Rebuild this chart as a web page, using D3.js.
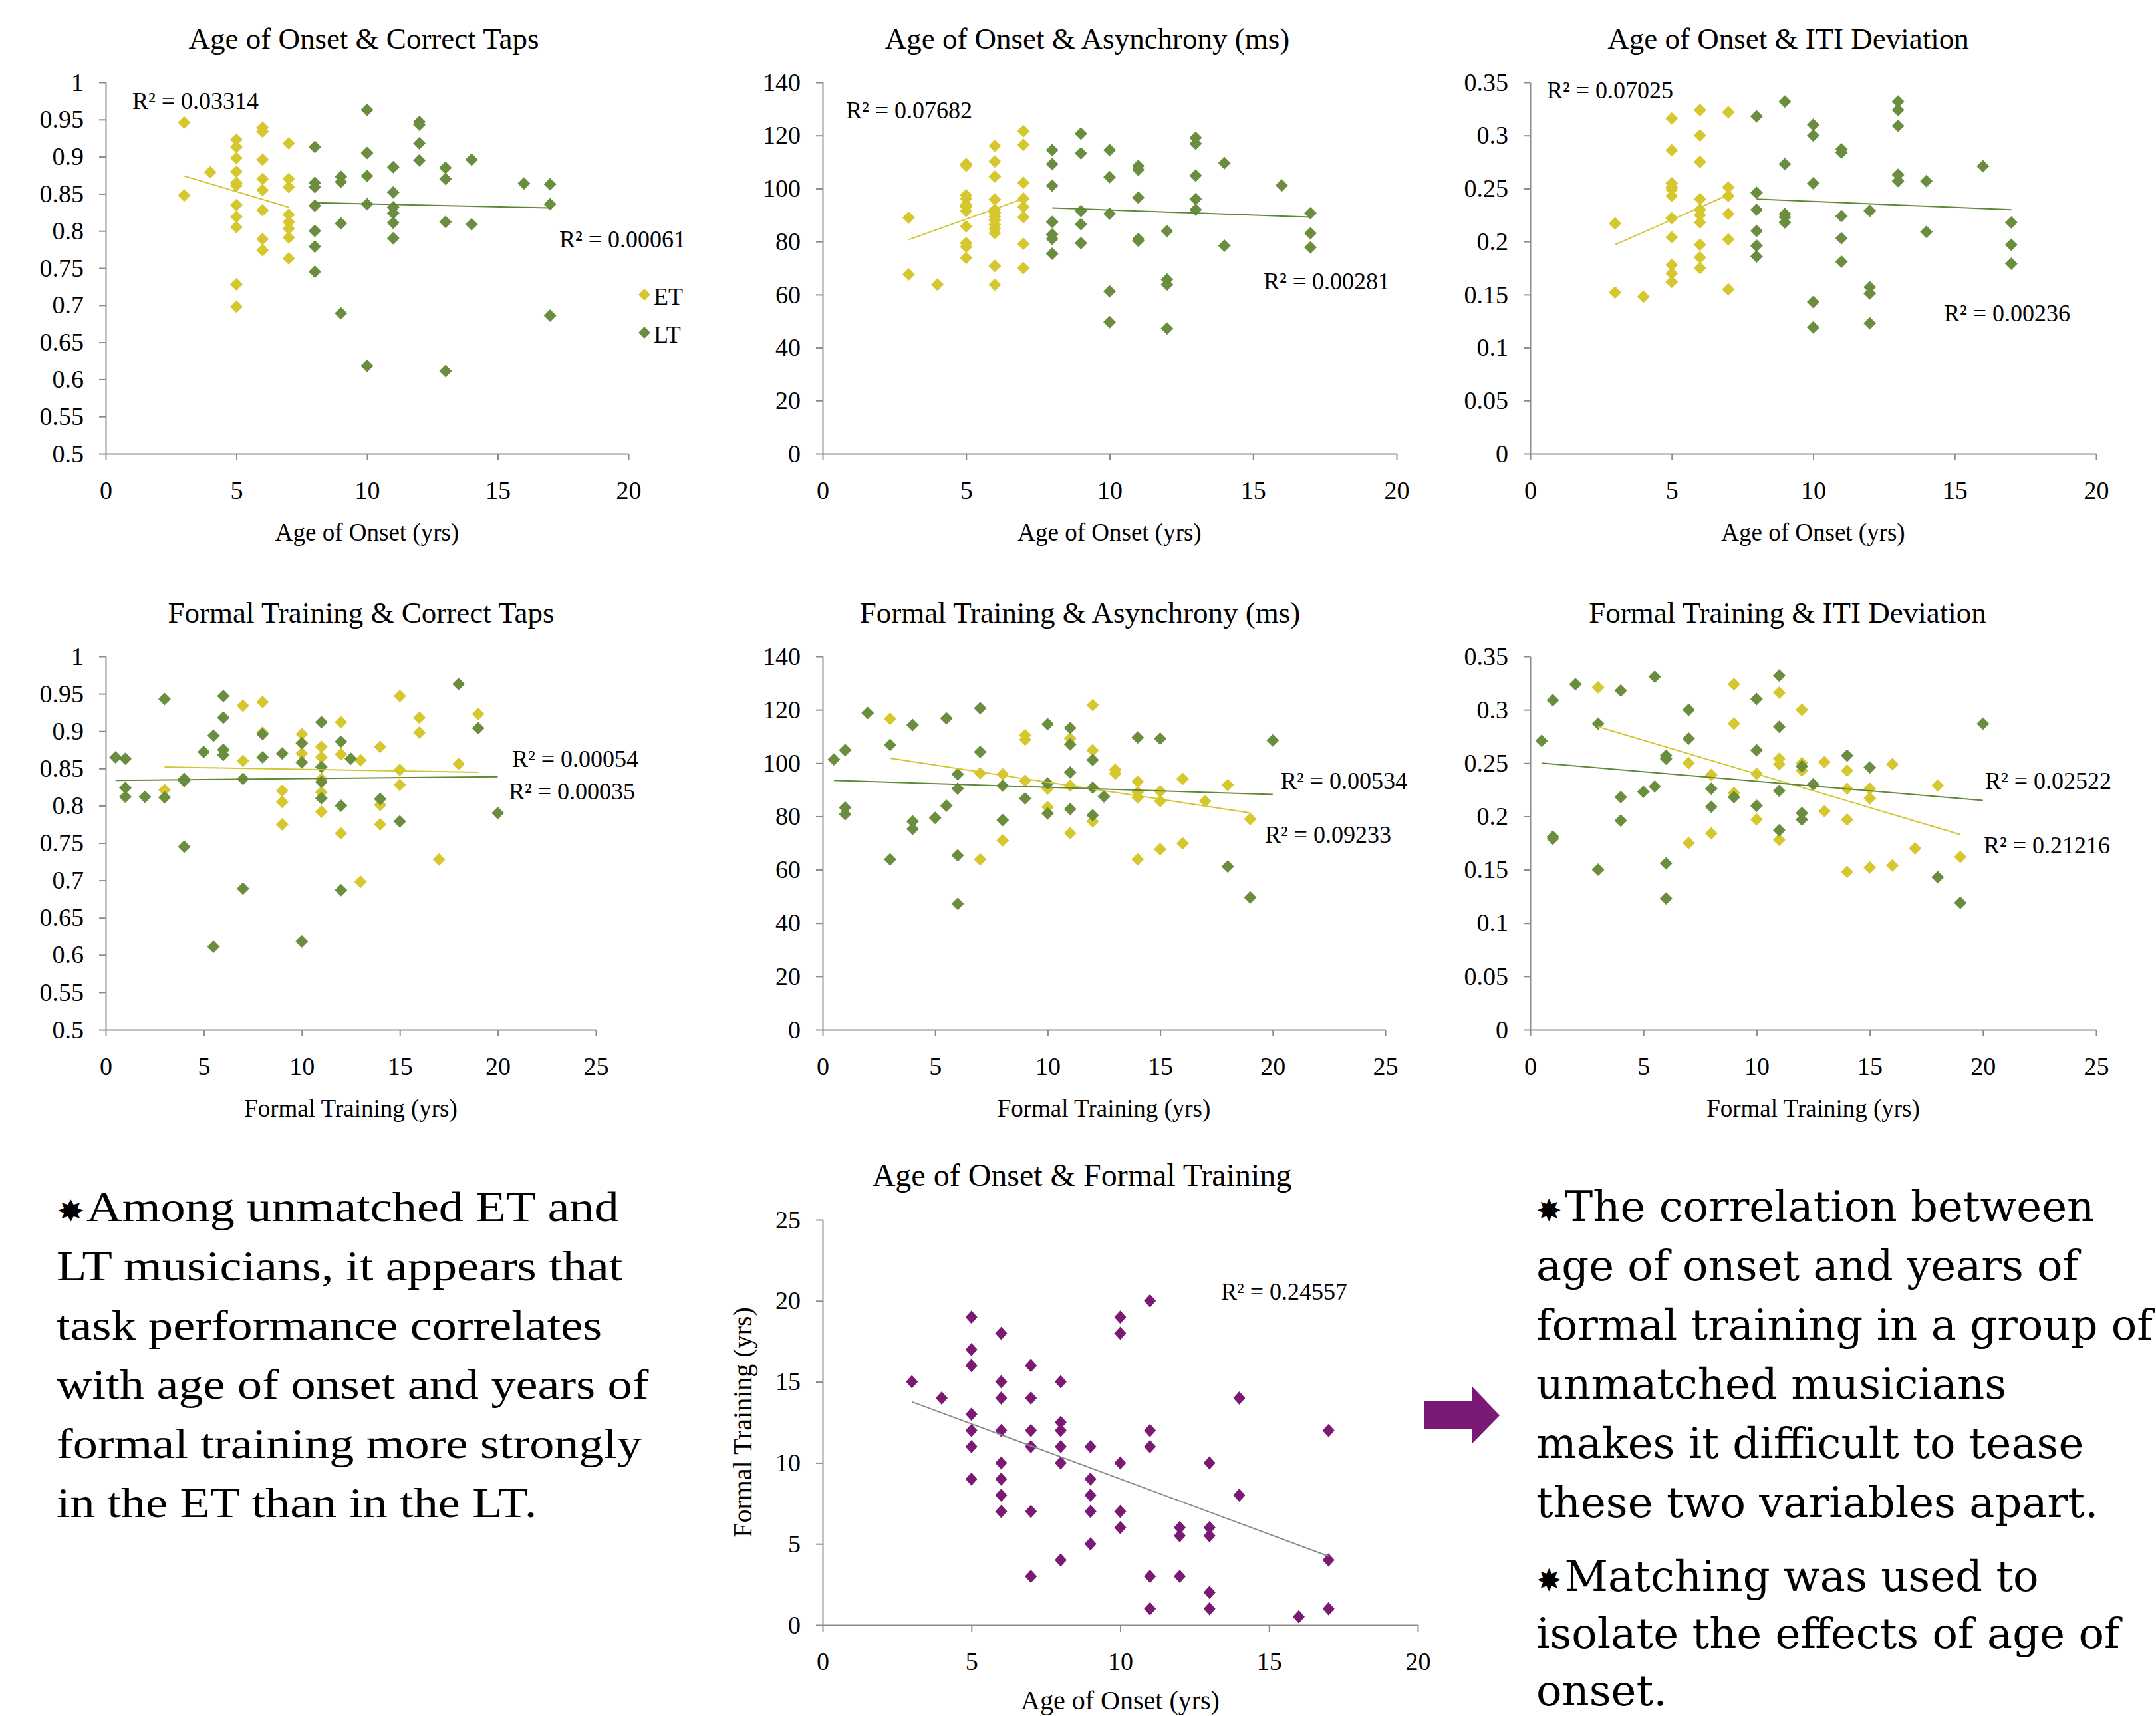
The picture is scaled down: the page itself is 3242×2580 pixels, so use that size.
<!DOCTYPE html>
<html>
<head>
<meta charset="utf-8">
<script src="https://cdn.jsdelivr.net/npm/d3@7"></script>
<style>
  body { margin: 0; background: #fff; }
  svg text { font-family: "Liberation Serif", "Times New Roman", serif; fill: #000; }
</style>
</head>
<body>
<div id="chart"></div>
<script>
// ---- tick values ----
const xTicksOnset = [0, 5, 10, 15, 20];
const xTicksTraining = [0, 5, 10, 15, 20, 25];
const yTicksTaps = [0.5, 0.55, 0.6, 0.65, 0.7, 0.75, 0.8, 0.85, 0.9, 0.95, 1];
const yTicksAsync = [0, 20, 40, 60, 80, 100, 120, 140];
const yTicksITI = [0, 0.05, 0.1, 0.15, 0.2, 0.25, 0.3, 0.35];
const yTicksYears = [0, 5, 10, 15, 20, 25];

// ---- age of onset vs correct taps ----
const onsetTapsET = [[3,0.946],[3,0.848],[4,0.879],
  [5,0.923],[5,0.913],[5,0.898],[5,0.880],[5,0.865],[5,0.861],[5,0.835],[5,0.819],[5,0.805],[5,0.728],[5,0.698],
  [6,0.939],[6,0.934],[6,0.896],[6,0.870],[6,0.855],[6,0.828],[6,0.789],[6,0.774],
  [7,0.918],[7,0.870],[7,0.859],[7,0.822],[7,0.812],[7,0.803],[7,0.791],[7,0.763]];
const onsetTapsLT = [[8,0.913],[8,0.865],[8,0.859],[8,0.834],[8,0.800],[8,0.779],[8,0.745],
  [9,0.873],[9,0.866],[9,0.810],[9,0.689],
  [10,0.963],[10,0.905],[10,0.874],[10,0.836],[10,0.618],
  [11,0.886],[11,0.852],[11,0.832],[11,0.824],[11,0.811],[11,0.790],
  [12,0.947],[12,0.943],[12,0.918],[12,0.895],
  [13,0.885],[13,0.870],[13,0.812],[13,0.611],
  [14,0.896],[14,0.809],[16,0.864],[17,0.863],[17,0.836],[17,0.686]];
const onsetTapsTrendET = [[3,0.874],[7,0.832]];
const onsetTapsTrendLT = [[8,0.838],[17,0.831]];

// ---- age of onset vs asynchrony ----
const onsetAsyncET = [[3,89.0],[3,67.6],[4,63.8],
  [5,109.2],[5,108.6],[5,97.5],[5,96.2],[5,93.9],[5,93.1],[5,91.5],[5,85.7],[5,79.4],[5,78.0],[5,73.8],
  [6,116.1],[6,110.2],[6,104.5],[6,95.9],[6,92.1],[6,90.8],[6,89.4],[6,88.1],[6,86.4],[6,84.8],[6,83.1],[6,70.8],[6,63.7],
  [7,121.6],[7,116.5],[7,102.2],[7,96.2],[7,93.1],[7,89.2],[7,79.1],[7,70.0]];
const onsetAsyncLT = [[8,114.5],[8,109.2],[8,101.1],[8,87.4],[8,82.7],[8,81.0],[8,75.4],
  [9,120.7],[9,113.3],[9,91.5],[9,86.5],[9,79.4],
  [10,114.5],[10,104.3],[10,90.5],[10,61.2],[10,49.6],
  [11,108.5],[11,107.1],[11,96.6],[11,81.0],[11,80.3],
  [12,83.9],[12,65.7],[12,63.8],[12,47.2],
  [13,119.1],[13,116.9],[13,104.9],[13,96.0],[13,92.0],
  [14,109.6],[14,78.4],[16,101.2],[17,90.7],[17,83.1],[17,77.8]];
const onsetAsyncTrendET = [[3,80.7],[7,96.2]];
const onsetAsyncTrendLT = [[8,92.7],[17,89.2]];

// ---- age of onset vs ITI deviation ----
const onsetItiET = [[3,0.217],[3,0.152],[4,0.148],
  [5,0.316],[5,0.286],[5,0.255],[5,0.251],[5,0.249],[5,0.243],[5,0.222],[5,0.204],[5,0.178],[5,0.170],[5,0.162],
  [6,0.324],[6,0.300],[6,0.275],[6,0.240],[6,0.230],[6,0.225],[6,0.218],[6,0.197],[6,0.185],[6,0.175],
  [7,0.322],[7,0.251],[7,0.243],[7,0.226],[7,0.202],[7,0.155]];
const onsetItiLT = [[8,0.318],[8,0.246],[8,0.230],[8,0.210],[8,0.196],[8,0.186],
  [9,0.332],[9,0.273],[9,0.226],[9,0.223],[9,0.218],
  [10,0.310],[10,0.300],[10,0.255],[10,0.143],[10,0.119],
  [11,0.287],[11,0.284],[11,0.224],[11,0.203],[11,0.181],
  [12,0.229],[12,0.157],[12,0.151],[12,0.123],
  [13,0.332],[13,0.324],[13,0.309],[13,0.263],[13,0.257],
  [14,0.257],[14,0.209],[16,0.271],[17,0.218],[17,0.197],[17,0.179]];
const onsetItiTrendET = [[3,0.197],[7,0.244]];
const onsetItiTrendLT = [[8,0.240],[17,0.230]];

// ---- formal training vs correct taps ----
const trainTapsET = [[3,0.821],[7,0.934],[7,0.860],[8,0.939],[8,0.898],[9,0.820],[9,0.805],[9,0.775],
  [10,0.896],[10,0.870],[11,0.879],[11,0.865],[11,0.836],[11,0.818],[11,0.792],[12,0.912],[12,0.869],[12,0.763],
  [13,0.861],[13,0.698],[14,0.879],[14,0.801],[14,0.775],[15,0.947],[15,0.848],[15,0.828],[16,0.918],[16,0.898],
  [17,0.728],[18,0.856],[19,0.923]];
const trainTapsLT = [[0.5,0.865],[1,0.863],[1,0.824],[1,0.812],[2,0.812],[3,0.943],[3,0.811],[4,0.836],[4,0.833],
  [4,0.745],[5,0.872],[5.5,0.894],[5.5,0.611],[6,0.947],[6,0.918],[6,0.875],[6,0.868],[7,0.836],[7,0.689],
  [8,0.896],[8,0.865],[9,0.870],[10,0.884],[10,0.858],[10,0.618],[11,0.912],[11,0.852],[11,0.832],[11,0.810],
  [12,0.886],[12,0.800],[12,0.687],[12.5,0.863],[14,0.809],[15,0.779],[18,0.963],[19,0.904],[20,0.790]];
const trainTapsTrendET = [[3,0.852],[19,0.845]];
const trainTapsTrendLT = [[0.5,0.834],[20,0.839]];

// ---- formal training vs asynchrony ----
const trainAsyncET = [[3,116.6],[7,96.2],[7,63.9],[8,95.8],[8,71.0],[9,110.5],[9,108.8],[9,93.4],[10,90.4],[10,83.5],
  [11,109.2],[11,91.5],[11,73.7],[12,121.7],[12,104.8],[12,78.1],[13,97.5],[13,96.1],[14,93.1],[14,89.1],[14,87.1],
  [14,63.9],[15,89.4],[15,85.7],[15,67.7],[16,94.1],[16,69.9],[17,85.7],[18,91.8],[19,79.0]];
const trainAsyncLT = [[0.5,101.4],[1,104.9],[1,83.3],[1,80.8],[2,118.8],[3,106.8],[3,63.9],[4,114.3],[4,78.1],[4,75.3],
  [5,79.4],[5.5,116.8],[5.5,84.0],[6,95.8],[6,90.4],[6,65.4],[6,47.2],[7,120.6],[7,104.2],[8,91.5],[8,78.6],[9,86.7],
  [10,114.6],[10,92.4],[10,81.1],[11,113.2],[11,107.0],[11,96.5],[11,82.7],[12,101.2],[12,90.8],[12,80.4],[12.5,87.5],
  [14,109.6],[15,109.2],[18,61.2],[19,49.6],[20,108.5]];
const trainAsyncTrendET = [[3,101.8],[19,81.3]];
const trainAsyncTrendLT = [[0.5,93.5],[20,88.2]];

// ---- formal training vs ITI deviation ----
const trainItiET = [[3,0.321],[7,0.250],[7,0.175],[8,0.239],[8,0.184],[9,0.324],[9,0.287],[9,0.222],[10,0.240],[10,0.197],
  [11,0.316],[11,0.254],[11,0.249],[11,0.178],[12,0.300],[12,0.250],[12,0.243],[13,0.251],[13,0.205],[14,0.243],
  [14,0.226],[14,0.197],[14,0.148],[15,0.226],[15,0.217],[15,0.152],[16,0.249],[16,0.154],[17,0.170],[18,0.229],[19,0.162]];
const trainItiLT = [[0.5,0.271],[1,0.309],[1,0.181],[1,0.179],[2,0.324],[3,0.287],[3,0.150],[4,0.318],[4,0.218],[4,0.196],
  [5,0.223],[5.5,0.331],[5.5,0.228],[6,0.257],[6,0.254],[6,0.156],[6,0.123],[7,0.300],[7,0.273],[8,0.226],[8,0.209],
  [9,0.218],[10,0.310],[10,0.262],[10,0.210],[11,0.332],[11,0.284],[11,0.224],[11,0.187],[12,0.247],[12,0.203],
  [12,0.197],[12.5,0.230],[14,0.257],[15,0.246],[18,0.143],[19,0.119],[20,0.287]];
const trainItiTrendET = [[3,0.284],[19,0.183]];
const trainItiTrendLT = [[0.5,0.250],[20,0.215]];

// ---- age of onset vs formal training (all musicians) ----
const onsetTraining = [[3,15],[4,14],[5,19],[5,17],[5,16],[5,13],[5,12],[5,11],[5,9],
  [6,18],[6,15],[6,14],[6,12],[6,10],[6,9],[6,8],[6,7],[7,16],[7,14],[7,12],[7,11],[7,7],[7,3],
  [8,15],[8,12.5],[8,12],[8,11],[8,10],[8,4],[9,11],[9,9],[9,8],[9,7],[9,5],
  [10,19],[10,18],[10,10],[10,7],[10,6],[11,20],[11,12],[11,11],[11,3],[11,1],
  [12,6],[12,5.5],[12,3],[13,10],[13,6],[13,5.5],[13,2],[13,1],[14,14],[14,8],[16,0.5],[17,12],[17,4],[17,1]];
const onsetTrainingTrend = [[3,13.77],[17,4.24]];

// ---- styling ----
const ET_COLOR = "#D7C72E";
const LT_COLOR = "#6A8D3F";
const PURPLE = "#7A1A74";
const AXIS_COLOR = "#8A8A8A";

const W = 3242, H = 2580;
const svg = d3.select("#chart").append("svg")
  .attr("width", W)
  .attr("height", H)
  .style("display", "block");

const diamond = (w, h) => `M0,${-h}L${w},0L0,${h}L${-w},0Z`;

function drawPanel(p) {
  const x = d3.scaleLinear().domain(p.xDomain).range([p.left, p.left + p.width]);
  const y = d3.scaleLinear().domain(p.yDomain).range([p.top + p.height, p.top]);
  const g = svg.append("g");

  const yAxis = g.append("g")
    .attr("transform", `translate(${p.left},0)`)
    .call(d3.axisLeft(y).tickValues(p.yTicks).tickFormat(d => String(d))
      .tickSize(10).tickSizeOuter(0).tickPadding(23));
  const xAxis = g.append("g")
    .attr("transform", `translate(0,${p.top + p.height})`)
    .call(d3.axisBottom(x).tickValues(p.xTicks).tickFormat(d => String(d))
      .tickSize(10).tickSizeOuter(0).tickPadding(31));
  [yAxis, xAxis].forEach(a => {
    a.selectAll("path, line").attr("stroke", AXIS_COLOR).attr("stroke-width", 2);
    a.selectAll("text").style("font-size", "38px")
      .style("font-family", '"Liberation Serif", serif').style("fill", "#000");
  });

  // markers
  p.series.forEach(s => {
    g.append("g").selectAll("path")
      .data(s.data)
      .enter()
      .append("path")
      .attr("d", diamond(s.w || 9.5, s.h || 9.5))
      .attr("transform", d => `translate(${x(d[0])},${y(d[1])})`)
      .attr("fill", s.color);
  });

  // trend lines
  const line = d3.line().x(d => x(d[0])).y(d => y(d[1]));
  p.series.forEach(s => {
    g.append("path")
      .attr("d", line(s.trend))
      .attr("fill", "none")
      .attr("stroke", s.trendColor)
      .attr("stroke-width", 2);
  });

  // R² labels
  p.labels.forEach(l => {
    g.append("text")
      .attr("x", p.left + l.dx)
      .attr("y", p.top + l.dy)
      .style("font-size", "36px")
      .text(l.text);
  });

  // title
  g.append("text")
    .attr("x", p.titleX)
    .attr("y", p.top - 51)
    .attr("text-anchor", "middle")
    .style("font-size", (p.titleSize || 45) + "px")
    .text(p.title);

  // x-axis title
  g.append("text")
    .attr("x", p.left + p.width / 2)
    .attr("y", p.top + p.height + (p.xTitleDy || 131))
    .attr("text-anchor", "middle")
    .style("font-size", (p.xTitleSize || 37) + "px")
    .text(p.xTitle);

  if (p.yTitle) {
    g.append("text")
      .attr("transform", `translate(${p.left - 107},${p.top + p.height / 2}) rotate(-90)`)
      .attr("text-anchor", "middle")
      .style("font-size", "40px")
      .text(p.yTitle);
  }
  return { g, x, y };
}

const et = (data, trend) => ({ data, trend, color: ET_COLOR, trendColor: "#D3C52C" });
const lt = (data, trend) => ({ data, trend, color: LT_COLOR, trendColor: "#5F8736" });

drawPanel({
  left: 159, top: 124, width: 786, height: 558,
  xDomain: [0, 20], xTicks: xTicksOnset, yDomain: [0.5, 1], yTicks: yTicksTaps,
  title: "Age of Onset & Correct Taps", titleX: 547, xTitle: "Age of Onset (yrs)",
  series: [et(onsetTapsET, onsetTapsTrendET), lt(onsetTapsLT, onsetTapsTrendLT)],
  labels: [{ text: "R² = 0.03314", dx: 40, dy: 40 }, { text: "R² = 0.00061", dx: 682, dy: 248 }]
});

drawPanel({
  left: 1237, top: 124, width: 863, height: 558,
  xDomain: [0, 20], xTicks: xTicksOnset, yDomain: [0, 140], yTicks: yTicksAsync,
  title: "Age of Onset & Asynchrony (ms)", titleX: 1635, xTitle: "Age of Onset (yrs)",
  series: [et(onsetAsyncET, onsetAsyncTrendET), lt(onsetAsyncLT, onsetAsyncTrendLT)],
  labels: [{ text: "R² = 0.07682", dx: 35, dy: 54 }, { text: "R² = 0.00281", dx: 663, dy: 311 }]
});

drawPanel({
  left: 2301, top: 124, width: 851, height: 558,
  xDomain: [0, 20], xTicks: xTicksOnset, yDomain: [0, 0.35], yTicks: yTicksITI,
  title: "Age of Onset & ITI Deviation", titleX: 2689, xTitle: "Age of Onset (yrs)",
  series: [et(onsetItiET, onsetItiTrendET), lt(onsetItiLT, onsetItiTrendLT)],
  labels: [{ text: "R² = 0.07025", dx: 25, dy: 24 }, { text: "R² = 0.00236", dx: 622, dy: 359 }]
});

drawPanel({
  left: 159, top: 987, width: 737, height: 561,
  xDomain: [0, 25], xTicks: xTicksTraining, yDomain: [0.5, 1], yTicks: yTicksTaps,
  title: "Formal Training & Correct Taps", titleX: 543, xTitle: "Formal Training (yrs)",
  series: [et(trainTapsET, trainTapsTrendET), lt(trainTapsLT, trainTapsTrendLT)],
  labels: [{ text: "R² = 0.00054", dx: 611, dy: 166 }, { text: "R² = 0.00035", dx: 606, dy: 215 }]
});

drawPanel({
  left: 1237, top: 987, width: 846, height: 561,
  xDomain: [0, 25], xTicks: xTicksTraining, yDomain: [0, 140], yTicks: yTicksAsync,
  title: "Formal Training & Asynchrony (ms)", titleX: 1624, xTitle: "Formal Training (yrs)",
  series: [et(trainAsyncET, trainAsyncTrendET), lt(trainAsyncLT, trainAsyncTrendLT)],
  labels: [{ text: "R² = 0.00534", dx: 689, dy: 199 }, { text: "R² = 0.09233", dx: 665, dy: 280 }]
});

drawPanel({
  left: 2301, top: 987, width: 851, height: 561,
  xDomain: [0, 25], xTicks: xTicksTraining, yDomain: [0, 0.35], yTicks: yTicksITI,
  title: "Formal Training & ITI Deviation", titleX: 2688, xTitle: "Formal Training (yrs)",
  series: [et(trainItiET, trainItiTrendET), lt(trainItiLT, trainItiTrendLT)],
  labels: [{ text: "R² = 0.02522", dx: 684, dy: 199 }, { text: "R² = 0.21216", dx: 682, dy: 296 }]
});

drawPanel({
  left: 1237, top: 1834, width: 895, height: 609,
  xDomain: [0, 20], xTicks: xTicksOnset, yDomain: [0, 25], yTicks: yTicksYears,
  title: "Age of Onset & Formal Training", titleX: 1627, titleSize: 48,
  xTitle: "Age of Onset (yrs)", xTitleSize: 40, xTitleDy: 127,
  yTitle: "Formal Training (yrs)",
  series: [{ data: onsetTraining, trend: onsetTrainingTrend, color: PURPLE, trendColor: "#8C8C8C", w: 9, h: 10 }],
  labels: [{ text: "R² = 0.24557", dx: 599, dy: 120 }]
});

// legend for the first panel
const legendItems = [{ name: "ET", color: ET_COLOR }, { name: "LT", color: LT_COLOR }];
const legend = svg.append("g").attr("transform", "translate(969,443)");
legend.selectAll("path").data(legendItems).enter().append("path")
  .attr("d", diamond(9, 9))
  .attr("transform", (d, i) => `translate(0,${i * 57})`)
  .attr("fill", d => d.color);
legend.selectAll("text").data(legendItems).enter().append("text")
  .attr("x", 14)
  .attr("y", (d, i) => i * 57 + 15)
  .style("font-size", "36px")
  .text(d => d.name);

// ---- text blocks ----
const leftLines = ["Among unmatched ET and", "LT musicians, it appears that", "task performance correlates",
  "with age of onset and years of", "formal training more strongly", "in the ET than in the LT."];
const rightLines = ["The correlation between", "age of onset and years of", "formal training in a group of",
  "unmatched musicians", "makes it difficult to tease", "these two variables apart."];
const rightLines2 = ["Matching was used to", "isolate the effects of age of", "onset."];

const leftBlock = svg.append("g").attr("transform", "translate(85,0) scale(1.16,1)");
leftLines.forEach((t, i) => {
  const tx = leftBlock.append("text")
    .attr("x", 0)
    .attr("y", 1836 + i * 89)
    .style("font-size", "64px");
  if (i === 0) {
    tx.append("tspan").style("font-family", '"DejaVu Sans", sans-serif').style("font-size", "44px").text("✸");
    tx.append("tspan").attr("dx", 2).text(t);
  } else {
    tx.text(t);
  }
});

function rightPara(lines, y0, step) {
  lines.forEach((t, i) => {
    const tx = svg.append("text")
      .attr("x", 2310)
      .attr("y", y0 + i * step)
      .style("font-family", '"DejaVu Serif", serif')
      .style("font-size", "64px");
    if (i === 0) {
      tx.append("tspan").style("font-family", '"DejaVu Sans", sans-serif').style("font-size", "46px").text("✸");
      tx.append("tspan").attr("dx", 4).text(t);
    } else {
      tx.text(t);
    }
  });
}
rightPara(rightLines, 1836, 89);
rightPara(rightLines2, 2392, 86);

// arrow
svg.append("path")
  .attr("d", "M2142,2106 L2213,2106 L2213,2084 L2255,2128 L2213,2171 L2213,2149 L2142,2149 Z")
  .attr("fill", PURPLE);
</script>
</body>
</html>
